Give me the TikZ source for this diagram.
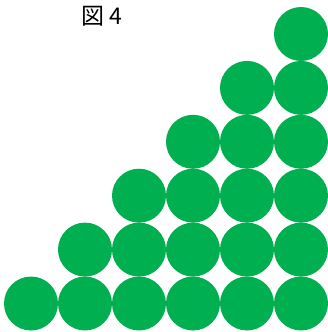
\documentclass[tikz,border=0pt]{standalone}
\usepackage{fontspec}
\newfontfamily\jpfont{Noto Sans CJK JP}
\definecolor{ballgreen}{RGB}{0,176,80}
\tikzset{ball/.style={circle,fill=ballgreen,draw=none,minimum size=54pt,inner sep=0pt}}

\begin{document}
\begin{tikzpicture}[x=1pt,y=1pt,yscale=-1,xscale=1]
\useasboundingbox (0,0) rectangle (327,332);

% Title
\draw (102,16) node [inner sep=0.75pt] (title) {\jpfont\fontsize{23pt}{26pt}\selectfont 図 4};

% Staircase of balls: row r (bottom = 1) holds columns r..6
\foreach \r in {1,...,6}{
  \foreach \c in {\r,...,6}{
    \node [ball] (b\r\c) at ({31+54*(\c-1)},{303.5-53.9*(\r-1)}) {};
  }
}

\end{tikzpicture}
\end{document}
